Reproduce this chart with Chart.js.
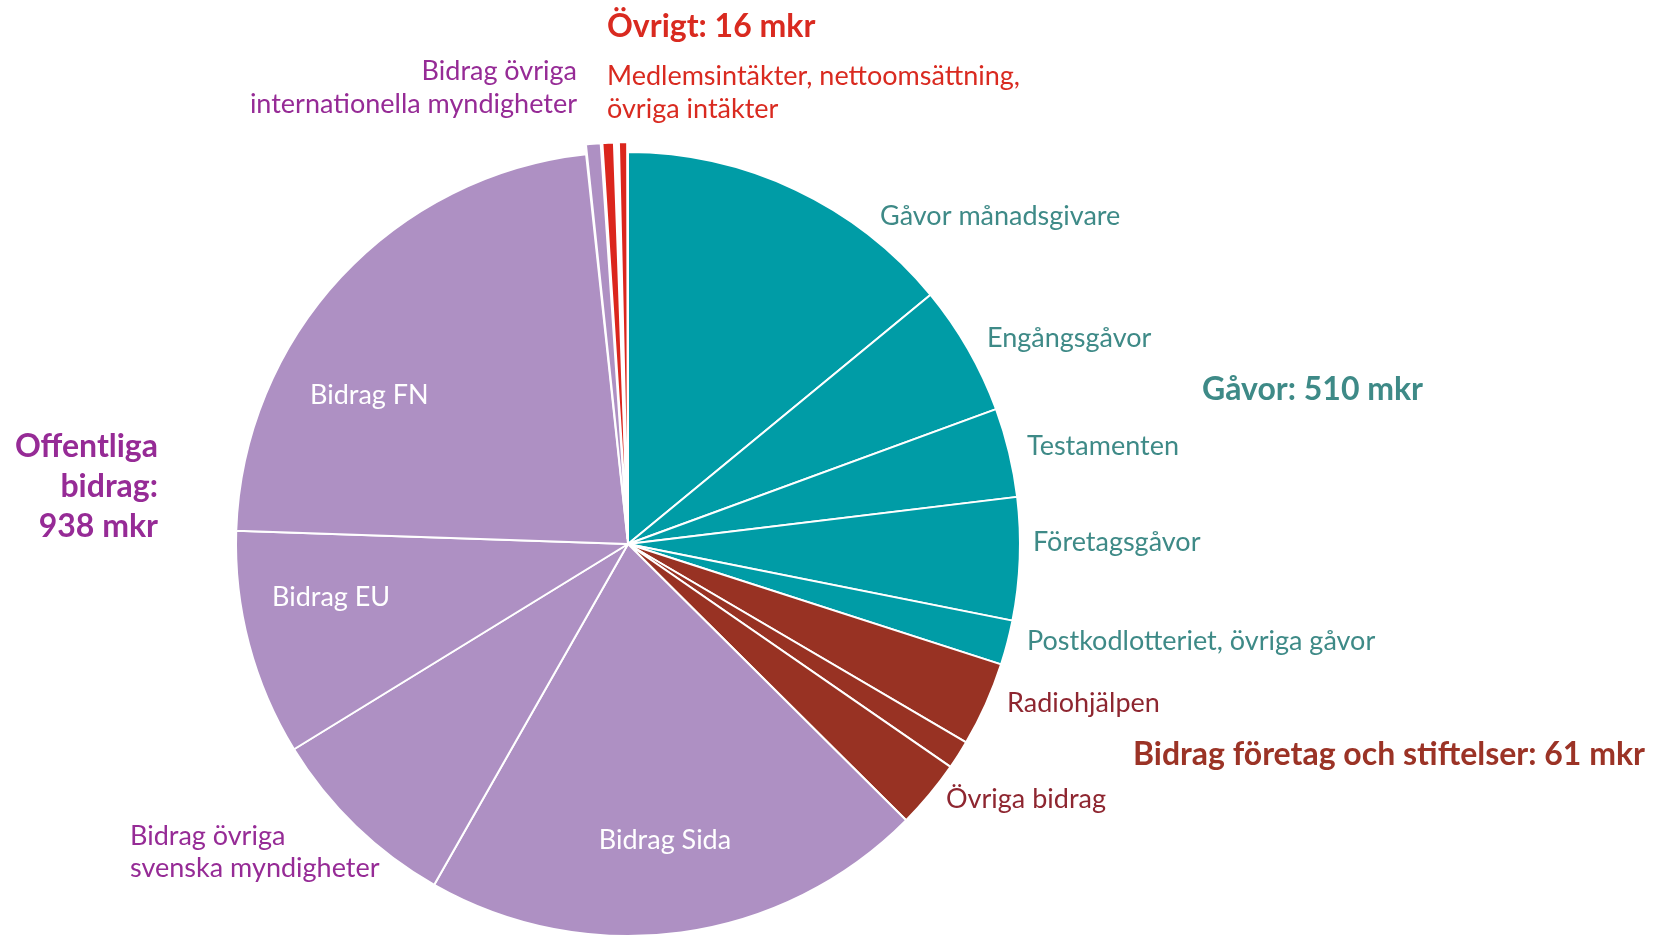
<!DOCTYPE html>
<html lang="sv">
<head>
  <meta charset="UTF-8" />
  <meta name="viewport" content="width=device-width, initial-scale=1.0"/>
  <title>Intäkter</title>
  <script src="https://cdn.jsdelivr.net/npm/chart.js"></script>
  <style>
    body {
      margin: 0;
      padding: 0;
      background: #ffffff;
      font-family: Lato, sans-serif;
    }
    #chart-container {
      width: 1661px;
      height: 936px;
      position: relative;
    }
  </style>
</head>
<body>
  <div id="chart-container">
    <canvas id="incomeChart"></canvas>
  </div>

  <script>
    // slices, clockwise from 12 o'clock (mkr)
    const categories = [
      "Gåvor månadsgivare", "Engångsgåvor", "Testamenten", "Företagsgåvor",
      "Postkodlotteriet, övriga gåvor", "Radiohjälpen", "Bidrag stiftelser", "Övriga bidrag",
      "Bidrag Sida", "Bidrag övriga svenska myndigheter", "Bidrag EU", "Bidrag FN",
      "Bidrag övriga internationella myndigheter",
      "Medlemsintäkter", "Nettoomsättning", "Övriga intäkter"
    ];
    const values = [214, 82, 56, 77, 28, 53, 18, 43, 317, 122, 142, 347, 10, 8, 2, 6];

    const TEAL = '#009ca6', BROWN = '#983223', PURPLE = '#ae90c3', RED = '#db261d';
    const sliceColors = [
      TEAL, TEAL, TEAL, TEAL, TEAL,
      BROWN, BROWN, BROWN,
      PURPLE, PURPLE, PURPLE, PURPLE, PURPLE,
      RED, RED, RED
    ];
    // small slivers at the top are pulled out a bit
    const sliceOffsets = [0, 0, 0, 0, 0, 0, 0, 0, 0, 0, 0, 0, 20, 20, 20, 20];

    // text around the pie: offsets from the pie centre, baseline of first line
    const TXT_TEAL = '#3e8a87', TXT_PURPLE = '#962b96', TXT_BROWN = '#8e2630',
          TXT_BROWN_B = '#9b3326', TXT_RED = '#d92a20';
    const labels = [
      { lines: ["Övrigt: 16 mkr"], dx: -21, dy: -507, align: 'left', color: TXT_RED, bold: true },
      { lines: ["Medlemsintäkter, nettoomsättning,", "övriga intäkter"], dx: -21, dy: -459, lh: 33, align: 'left', color: TXT_RED },
      { lines: ["Bidrag övriga", "internationella myndigheter"], dx: -51, dy: -464, lh: 33, align: 'right', color: TXT_PURPLE },
      { lines: ["Gåvor månadsgivare"], dx: 252, dy: -319, align: 'left', color: TXT_TEAL },
      { lines: ["Engångsgåvor"], dx: 359, dy: -197, align: 'left', color: TXT_TEAL },
      { lines: ["Gåvor: 510 mkr"], dx: 574, dy: -144, align: 'left', color: TXT_TEAL, bold: true },
      { lines: ["Testamenten"], dx: 399, dy: -89, align: 'left', color: TXT_TEAL },
      { lines: ["Företagsgåvor"], dx: 405, dy: 7, align: 'left', color: TXT_TEAL },
      { lines: ["Postkodlotteriet, övriga gåvor"], dx: 399, dy: 106, align: 'left', color: TXT_TEAL },
      { lines: ["Radiohjälpen"], dx: 379, dy: 168, align: 'left', color: TXT_BROWN },
      { lines: ["Bidrag företag och stiftelser: 61 mkr"], dx: 505, dy: 221, align: 'left', color: TXT_BROWN_B, bold: true },
      { lines: ["Övriga bidrag"], dx: 318, dy: 264, align: 'left', color: TXT_BROWN },
      { lines: ["Bidrag Sida"], dx: 37, dy: 305, align: 'center', color: '#ffffff' },
      { lines: ["Bidrag övriga", "svenska myndigheter"], dx: -498, dy: 301, lh: 32, align: 'left', color: TXT_PURPLE },
      { lines: ["Bidrag EU"], dx: -356, dy: 62, align: 'left', color: '#ffffff' },
      { lines: ["Bidrag FN"], dx: -318, dy: -140, align: 'left', color: '#ffffff' },
      { lines: ["Offentliga", "bidrag:", "938 mkr"], dx: -470, dy: -87, lh: 40, align: 'right', color: TXT_PURPLE, bold: true }
    ];

    const labelPlugin = {
      id: 'pieLabels',
      afterDatasetsDraw(chart) {
        const arc = chart.getDatasetMeta(0).data[0];
        if (!arc) return;
        const ctx = chart.ctx;
        ctx.save();
        ctx.textBaseline = 'alphabetic';
        labels.forEach(l => {
          ctx.font = (l.bold ? 'bold 32px' : '27px') + ' Lato, sans-serif';
          ctx.fillStyle = l.color;
          ctx.textAlign = l.align;
          l.lines.forEach((line, i) => {
            ctx.fillText(line, arc.x + l.dx, arc.y + l.dy + i * (l.lh || 0));
          });
        });
        ctx.restore();
      }
    };

    const ctx = document.getElementById('incomeChart').getContext('2d');
    const chart = new Chart(ctx, {
      type: 'pie',
      data: {
        labels: categories,
        datasets: [{
          data: values,
          backgroundColor: sliceColors,
          borderColor: '#ffffff',
          borderWidth: 2,
          offset: sliceOffsets,
          clip: false
        }]
      },
      options: {
        responsive: true,
        maintainAspectRatio: false,
        animation: false,
        radius: 392,
        layout: { padding: { left: 0, right: 405, top: 152, bottom: 0 } },
        plugins: {
          legend: { display: false },
          tooltip: { enabled: false }
        }
      },
      plugins: [labelPlugin]
    });
  </script>
</body>
</html>
